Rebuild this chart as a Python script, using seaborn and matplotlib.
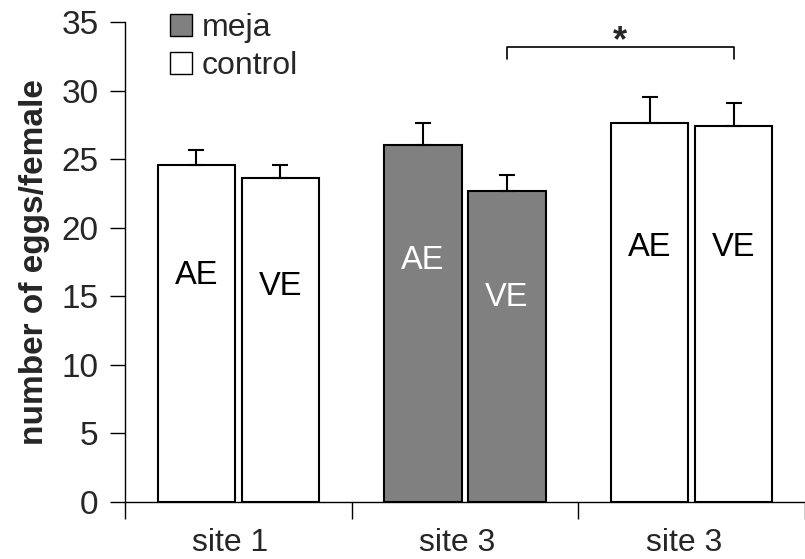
import matplotlib
matplotlib.use("Agg")
import matplotlib.pyplot as plt
import seaborn as sns
import pandas as pd
from matplotlib.patches import Patch

sns.set_theme(style="ticks")
plt.rcParams["font.family"] = ["Liberation Sans", "DejaVu Sans"]

# Data
groups = ["g1", "g2", "g3"]
group_labels = ["site 1", "site 3", "site 3"]
treatment = ["control", "meja", "control"]
ae_means = [24.6, 26.0, 27.6]
ve_means = [23.6, 22.7, 27.4]
ae_sem = [1.1, 1.6, 1.9]
ve_sem = [1.0, 1.15, 1.7]
bar_names = ["AE", "VE"]

colors = {"meja": "#808080", "control": "#ffffff"}
text_colors = {"meja": "white", "control": "black"}

df = pd.DataFrame({
    "group": groups * 2,
    "tissue": ["AE"] * 3 + ["VE"] * 3,
    "eggs": ae_means + ve_means,
    "sem": ae_sem + ve_sem,
    "treatment": treatment * 2,
})

fig = plt.figure(figsize=(8.05, 5.59), dpi=100)
ax = fig.add_axes([125 / 805, 1 - 502 / 559, 1 - 125 / 805, (502 - 22) / 559])

sns.barplot(data=df, x="group", y="eggs", hue="tissue", order=groups,
            hue_order=bar_names, width=0.74, gap=0.08, errorbar=None,
            edgecolor="black", linewidth=1.5, legend=False, ax=ax)

# Vertical placement of the in-bar tissue labels, per group
label_heights = {"AE": [16.8, 17.9, 18.8], "VE": [16.0, 15.2, 18.8]}

# Recolour each bar by treatment, add one-sided error bars and inner labels
centers = {}
for k, (name, means, sems) in enumerate([("AE", ae_means, ae_sem),
                                         ("VE", ve_means, ve_sem)]):
    patches = ax.patches[k * 3:(k + 1) * 3]
    for i, p in enumerate(patches):
        tr = treatment[i]
        p.set_facecolor(colors[tr])
        p.set_edgecolor("black")
        cx = p.get_x() + p.get_width() / 2
        centers[(i, name)] = cx
        ax.errorbar(cx, means[i], yerr=[[0], [sems[i]]], fmt="none",
                    ecolor="black", elinewidth=1.5, capsize=6, capthick=1.5,
                    zorder=1)
        ax.text(cx, label_heights[name][i], name, ha="center", va="center_baseline",
                fontsize=23.5, color=text_colors[tr])

# Significance bracket between the two VE bars of site 3
x1, x2 = centers[(1, "VE")], centers[(2, "VE")]
ax.plot([x1, x1, x2, x2], [32.3, 33.15, 33.15, 32.3], color="black", lw=1.2,
        clip_on=False)
ax.text((x1 + x2) / 2, 32.3, "*", ha="center", va="bottom", fontsize=26,
        fontweight="bold")

ax.set_ylim(0, 35)
ax.set_xlim(-0.5, -0.5 + 680 / 230)
ax.set_yticks(range(0, 36, 5))
ax.set_xticks([-0.5, 0.5, 1.5, 2.5])
ax.set_xticklabels([])
ax.set_xticks([i - 0.035 for i in range(3)], minor=True)
ax.set_xticklabels(group_labels, minor=True)
ax.tick_params(axis="x", which="major", length=12, width=1, direction="out",
               color="black")
ax.tick_params(axis="x", which="minor", length=0, pad=19, labelsize=23)
ax.tick_params(axis="y", length=11, width=1, direction="out", pad=8,
               labelsize=24, color="black")
ax.set_xlabel("")
ax.set_ylabel("number of eggs/female", fontsize=24, fontweight="bold",
              labelpad=8)
sns.despine(ax=ax)
for s in ("left", "bottom"):
    ax.spines[s].set_color("black")
    ax.spines[s].set_linewidth(1)

handles = [Patch(facecolor=colors["meja"], edgecolor="black", label="meja"),
           Patch(facecolor=colors["control"], edgecolor="black", label="control")]
ax.legend(handles=handles, loc="upper left", bbox_to_anchor=(0.047, 1.045),
          frameon=False, fontsize=23, handlelength=0.69, handleheight=0.69,
          handletextpad=0.3, labelspacing=0.25, borderaxespad=0)

fig.savefig("out.png", dpi=100)
